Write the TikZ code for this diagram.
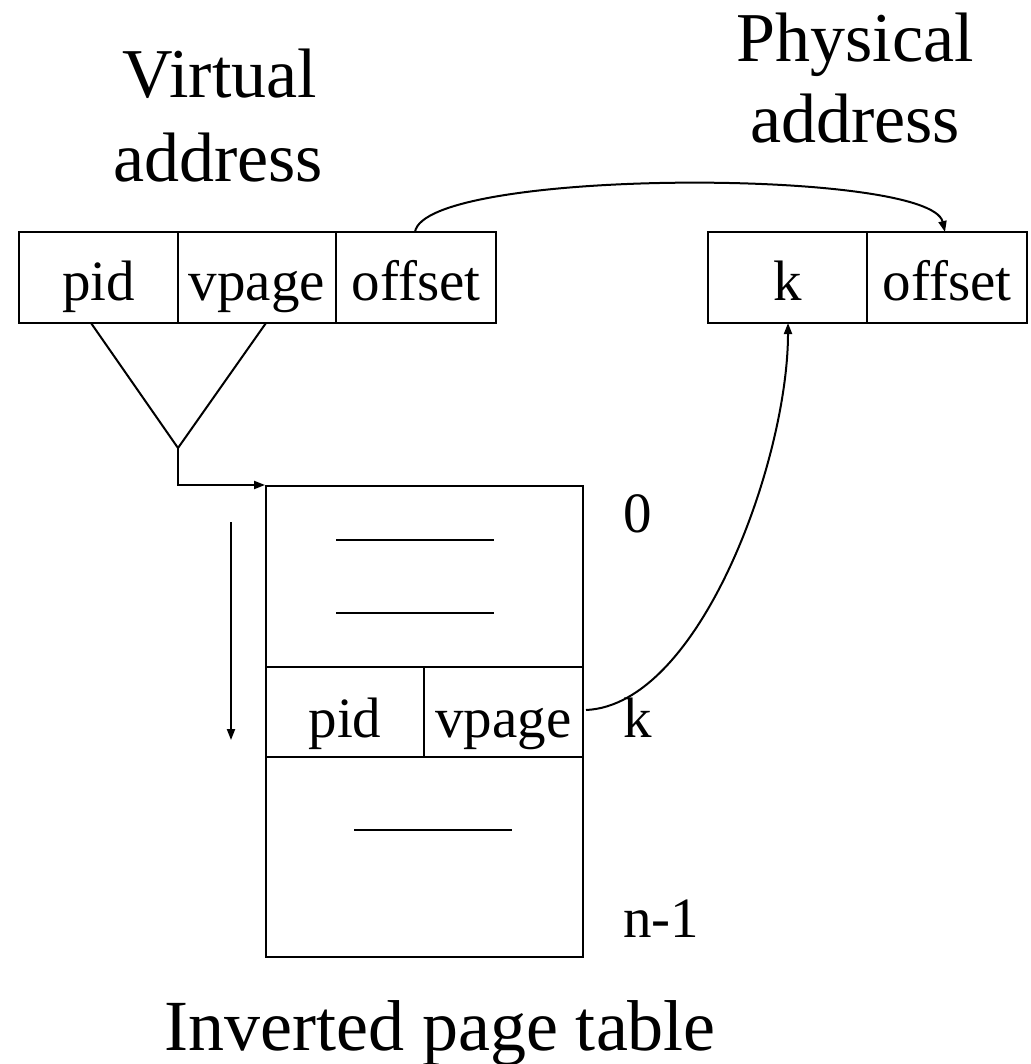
\documentclass[tikz,border=0pt]{standalone}
\usepackage{fontspec}
\setmainfont{Liberation Serif}
\usetikzlibrary{arrows.meta}
\begin{document}
\begin{tikzpicture}[x=1pt,y=-1pt,line width=2pt,
  cell/.style={draw,rectangle,inner sep=0pt,outer sep=0pt,font=\fontsize{57}{60}\selectfont},
  vcell/.style={cell,minimum height=91pt,text height=50pt,text depth=5pt},
  rcell/.style={cell,minimum height=90pt,text height=55pt,text depth=5pt},
  title/.style={font=\fontsize{70}{84}\selectfont,inner sep=0pt,anchor=base},
  idx/.style={font=\fontsize{57}{60}\selectfont,inner sep=0pt,anchor=base west},
  arr/.style={-{Triangle[length=11pt,width=8pt]}}]
\useasboundingbox (0,0) rectangle (1030,1064);
% titles
\node[title] (vt1) at (220,98) {Virtual};
\node[title] (vt2) at (218,182) {address};
\node[title] (pt1) at (855,62) {Physical};
\node[title] (pt2) at (855,143) {address};
\node[title,font=\fontsize{72}{84}\selectfont] (cap) at (440,1050) {Inverted page table};
% virtual address
\node[vcell,minimum width=159pt] (vpid) at (98.5,277.5) {pid};
\node[vcell,minimum width=158pt] (vvp) at (257,277.5) {vpage};
\node[vcell,minimum width=160pt] (voff) at (416,277.5) {offset};
% physical address
\node[vcell,minimum width=159pt] (pk) at (787.5,277.5) {k};
\node[vcell,minimum width=160pt] (poff) at (947,277.5) {offset};
% table
\node[draw,rectangle,inner sep=0pt,minimum width=317pt,minimum height=471pt] (tbl) at (424.5,721.5) {};
\node[rcell,minimum width=158pt] (kpid) at (345,712) {pid};
\node[rcell,minimum width=159pt] (kvp) at (503.5,712) {vpage};
\draw (336,540) -- (494,540);
\draw (336,613) -- (494,613);
\draw (354,830) -- (512,830);
% index labels
\node[idx] (i0) at (622,532) {0};
\node[idx] (ik) at (622,737) {k};
\node[idx] (in) at (622,937) {n-1};
% hash triangle
\coordinate (a1) at (91,323);
\coordinate (a2) at (266,323);
\coordinate (apex) at (178,448);
\draw (a1) -- (apex) -- (a2);
\draw[arr] (apex) |- (tbl.north west);
% scan arrow
\coordinate (s1) at (231,522);
\coordinate (s2) at (231,740);
\draw[arr] (s1) -- (s2);
% offset copy
\coordinate (o1) at (415,232);
\coordinate (o2) at (945,232);
\draw[arr] (o1) .. controls (425,168) and (930,168) .. (o2);
% frame number
\coordinate (f1) at (586,710);
\coordinate (f2) at (788,323);
\draw[arr] (f1) .. controls (700,705) and (788,460) .. (f2);
\end{tikzpicture}
\end{document}
